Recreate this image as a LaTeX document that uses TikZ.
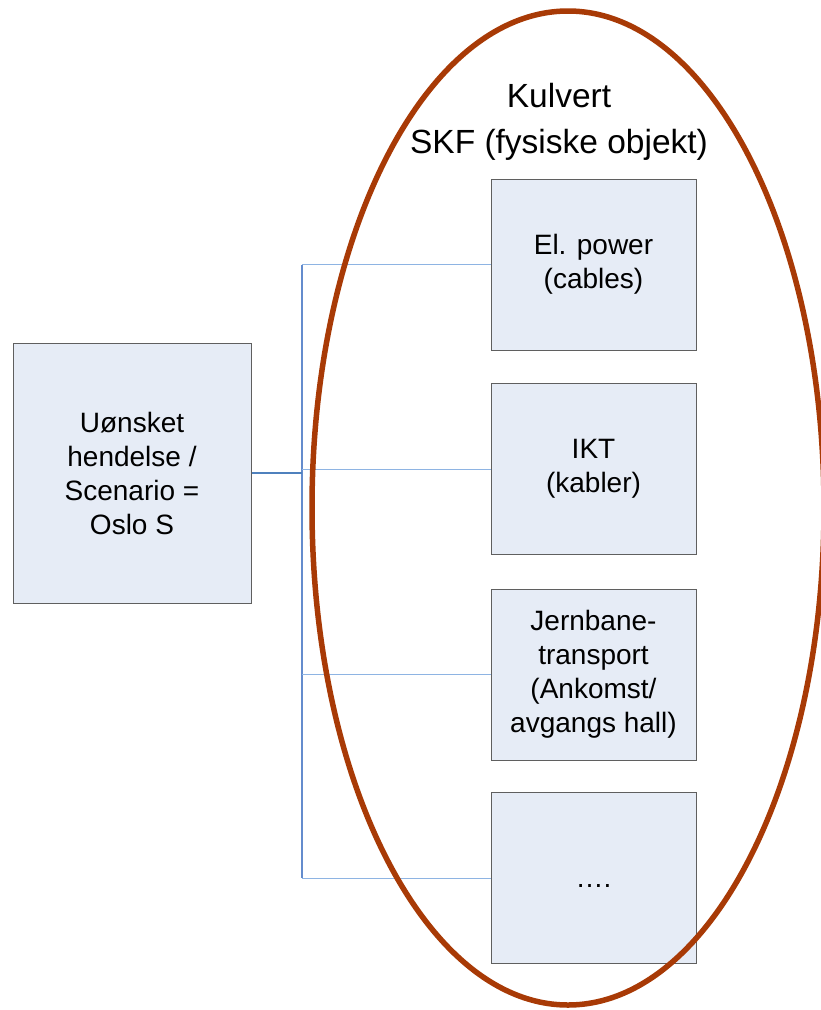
\documentclass[tikz,border=0pt]{standalone}
\usepackage{fontspec}
\setmainfont{Liberation Sans}
\usetikzlibrary{shapes.geometric}
\definecolor{boxfill}{RGB}{230,236,246}
\definecolor{boxline}{RGB}{95,95,95}
\definecolor{lineblue}{RGB}{142,180,227}
\definecolor{midblue}{RGB}{100,140,205}
\definecolor{darkblue}{RGB}{79,129,189}
\definecolor{rust}{RGB}{168,58,6}
\tikzset{
  itembox/.style={draw=boxline, fill=boxfill, line width=1pt, align=center,
    minimum width=205pt, minimum height=171pt, inner sep=0pt,
    font=\fontsize{28}{34}\selectfont},
  srcbox/.style={itembox, minimum width=238pt, minimum height=260pt},
  branch/.style={draw=lineblue, line width=1pt},
  trunk/.style={draw=midblue, line width=1.2pt},
  stub/.style={draw=darkblue, line width=2pt},
  titletext/.style={anchor=base, font=\fontsize{33.5}{40}\selectfont},
  ring/.style={draw=rust, line width=5.5pt}
}
\begin{document}
\begin{tikzpicture}[x=1pt,y=-1pt]
\useasboundingbox (0,0) rectangle (821,1010);
\node[srcbox] (src) at (132,473) {Uønsket\\hendelse /\\Scenario =\\Oslo S};
\node[itembox] (b1) at (593.5,264.5) {El. power\\(cables)};
\node[itembox] (b2) at (593.5,469) {IKT\\(kabler)};
\node[itembox] (b3) at (593.5,674.5) {Jernbane-\\transport\\(Ankomst/\\avgangs hall)};
\node[itembox, text height=0pt, text depth=0pt] (b4) at (593.5,878) {\raisebox{-9pt}{….}};
\coordinate (jtop) at (302,264.5);
\coordinate (jbot) at (302,878);
\coordinate (jmid) at (302,473);
\path[trunk] (jtop) -- (jbot);
\path[branch] (jtop) -- (b1.west);
\path[branch] (b2.west -| jtop) -- (b2.west);
\path[branch] (b3.west -| jtop) -- (b3.west);
\path[branch] (jbot) -- (b4.west);
\path[stub] (src.east) -- (jmid);
\node[titletext] (t1) at (559,107) {Kulvert};
\node[titletext] (t2) at (559,153) {SKF (fysiske objekt)};
\node[ring, ellipse, minimum width=512pt, minimum height=994pt, inner sep=0pt] (ring) at (568,508) {};
\end{tikzpicture}
\end{document}
